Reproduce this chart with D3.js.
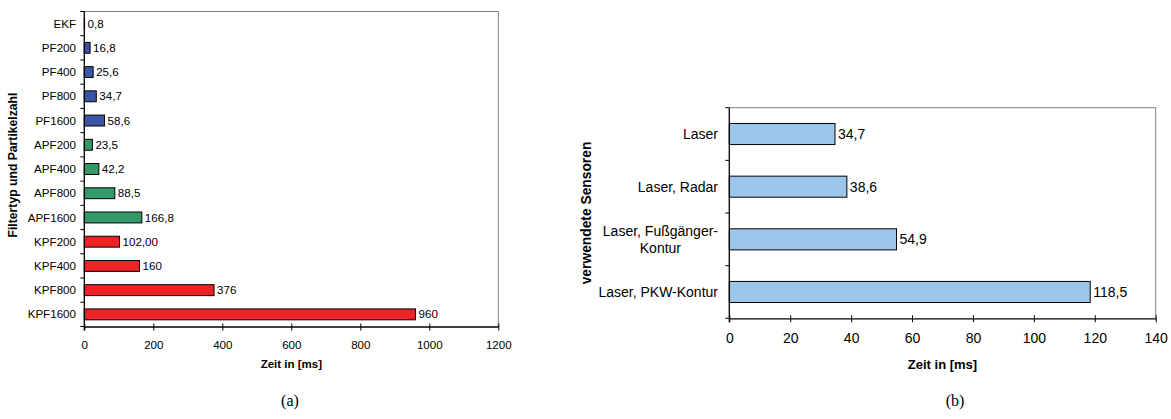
<!DOCTYPE html>
<html>
<head>
<meta charset="utf-8">
<script src="https://cdn.jsdelivr.net/npm/d3@7"></script>
<style>
  html, body { margin: 0; padding: 0; background: #fff; }
  svg { display: block; font-family: "Liberation Sans", Arial, sans-serif; }
</style>
</head>
<body>
<svg id="fig" width="1171" height="419"></svg>
<script>
// Panel (a): computation time per filter type and particle count
const filterNames = ["EKF", "PF200", "PF400", "PF800", "PF1600",
  "APF200", "APF400", "APF800", "APF1600",
  "KPF200", "KPF400", "KPF800", "KPF1600"];
const filterTimes = [0.8, 16.8, 25.6, 34.7, 58.6, 23.5, 42.2, 88.5, 166.8, 102, 160, 376, 960];
const filterLabels = ["0,8", "16,8", "25,6", "34,7", "58,6", "23,5", "42,2", "88,5", "166,8", "102,00", "160", "376", "960"];
const filterGroups = ["EKF", "PF", "PF", "PF", "PF", "APF", "APF", "APF", "APF", "KPF", "KPF", "KPF", "KPF"];
const timeTicksA = [0, 200, 400, 600, 800, 1000, 1200];

// Panel (b): computation time per sensor combination
const sensorNames = [["Laser"], ["Laser, Radar"], ["Laser, Fußgänger-", "Kontur"], ["Laser, PKW-Kontur"]];
const sensorTimes = [34.7, 38.6, 54.9, 118.5];
const sensorLabels = ["34,7", "38,6", "54,9", "118,5"];
const timeTicksB = [0, 20, 40, 60, 80, 100, 120, 140];

const groupColor = { EKF: "#3a55a6", PF: "#3a55a6", APF: "#339966", KPF: "#ee2326" };

const svg = d3.select("#fig");

function panel(opt) {
  const g = svg.append("g");
  const x = d3.scaleLinear().domain(opt.xDomain).range([opt.left, opt.right]);
  const y = d3.scaleBand().domain(d3.range(opt.values.length)).range([opt.top, opt.bottom])
    .paddingInner(opt.pad).paddingOuter(opt.pad / 2);

  // plot frame: grey top and right edges
  g.append("path")
    .attr("d", `M${opt.left},${opt.top}H${opt.right}V${opt.bottom}`)
    .attr("fill", "none").attr("stroke", "#808080").attr("stroke-width", 1);

  // bars
  g.selectAll("rect.bar").data(opt.values).join("rect")
    .attr("class", "bar")
    .attr("x", x(0))
    .attr("y", (d, i) => y(i))
    .attr("width", d => x(d) - x(0))
    .attr("height", y.bandwidth())
    .attr("fill", (d, i) => opt.color(i))
    .attr("stroke", "#000").attr("stroke-width", 1);

  // value labels
  g.selectAll("text.val").data(opt.values).join("text")
    .attr("class", "val")
    .attr("x", d => x(d) + 3)
    .attr("y", (d, i) => y(i) + y.bandwidth() / 2)
    .attr("dy", "0.35em")
    .attr("font-size", opt.fs)
    .attr("fill", "#000")
    .text((d, i) => opt.labels[i]);

  // x axis
  const xa = g.append("g").attr("transform", `translate(0,${opt.bottom})`)
    .call(d3.axisBottom(x).tickValues(opt.ticks).tickFormat(d3.format("d"))
      .tickSize(4).tickSizeOuter(0).tickPadding(opt.tickPad));
  xa.select(".domain").attr("stroke", "#000").attr("stroke-width", 1.3);
  xa.selectAll(".tick line").attr("stroke", "#000").attr("y1", -3).attr("y2", 4);
  xa.selectAll(".tick text").attr("font-size", opt.fs).attr("font-family", null).attr("fill", "#000");

  // y axis with ticks between categories
  const edges = d3.range(opt.values.length + 1).map(i =>
    opt.top + i * (opt.bottom - opt.top) / opt.values.length);
  g.append("line").attr("x1", opt.left).attr("x2", opt.left)
    .attr("y1", opt.top).attr("y2", opt.bottom + 4)
    .attr("stroke", "#000").attr("stroke-width", 1.3);
  g.selectAll("line.yt").data(edges).join("line").attr("class", "yt")
    .attr("x1", opt.left - 4).attr("x2", opt.left)
    .attr("y1", d => d).attr("y2", d => d)
    .attr("stroke", "#000").attr("stroke-width", 1);

  // category labels (multi-line labels are centred under their first line)
  opt.names.forEach((nm, i) => {
    const lines = Array.isArray(nm) ? nm : [nm];
    const lh = opt.fs * 1.2;
    const cy = y(i) + y.bandwidth() / 2 - (lines.length - 1) * lh / 2;
    const first = g.append("text")
      .attr("text-anchor", "end")
      .attr("font-size", opt.fs)
      .attr("fill", "#000")
      .attr("x", opt.labelRight).attr("y", cy).attr("dy", "0.35em")
      .text(lines[0]);
    if (lines.length > 1) {
      const w = first.node().getComputedTextLength();
      lines.slice(1).forEach((ln, k) => {
        g.append("text")
          .attr("text-anchor", "middle")
          .attr("font-size", opt.fs)
          .attr("fill", "#000")
          .attr("x", opt.labelRight - w / 2)
          .attr("y", cy + (k + 1) * lh).attr("dy", "0.35em")
          .text(ln);
      });
    }
  });

  // axis titles
  g.append("text")
    .attr("x", (opt.left + opt.right) / 2).attr("y", opt.xTitleY)
    .attr("text-anchor", "middle").attr("font-weight", "bold").attr("font-size", opt.xtfs)
    .text("Zeit in [ms]");
  g.append("text")
    .attr("transform", `translate(${opt.yTitleX},${opt.yTitleY}) rotate(-90)`)
    .attr("text-anchor", "middle").attr("font-weight", "bold").attr("font-size", opt.ytfs)
    .text(opt.yTitle);

  // panel caption
  g.append("text")
    .attr("x", opt.capX).attr("y", 406)
    .attr("text-anchor", "middle")
    .attr("font-family", "'Liberation Serif', 'Times New Roman', serif")
    .attr("font-size", 16)
    .text(opt.caption);
}

panel({
  names: filterNames, values: filterTimes, labels: filterLabels,
  color: i => groupColor[filterGroups[i]],
  xDomain: [0, 1200], ticks: timeTicksA,
  left: 84.3, right: 498.3, top: 11.5, bottom: 326.5,
  pad: 0.55, fs: 11.6, xtfs: 11.5, ytfs: 12.2, tickPad: 10, labelRight: 76,
  xTitleY: 368, yTitleX: 17, yTitleY: 165,
  yTitle: "Filtertyp und Partikelzahl", caption: "(a)", capX: 290
});

panel({
  names: sensorNames, values: sensorTimes, labels: sensorLabels,
  color: () => "#9dc7ea",
  xDomain: [0, 140], ticks: timeTicksB,
  left: 729.3, right: 1155.7, top: 107.7, bottom: 318.3,
  pad: 0.6, fs: 14, xtfs: 13, ytfs: 13.8, tickPad: 11, labelRight: 718,
  xTitleY: 369, yTitleX: 591, yTitleY: 213,
  yTitle: "verwendete Sensoren", caption: "(b)", capX: 955
});
</script>
</body>
</html>
